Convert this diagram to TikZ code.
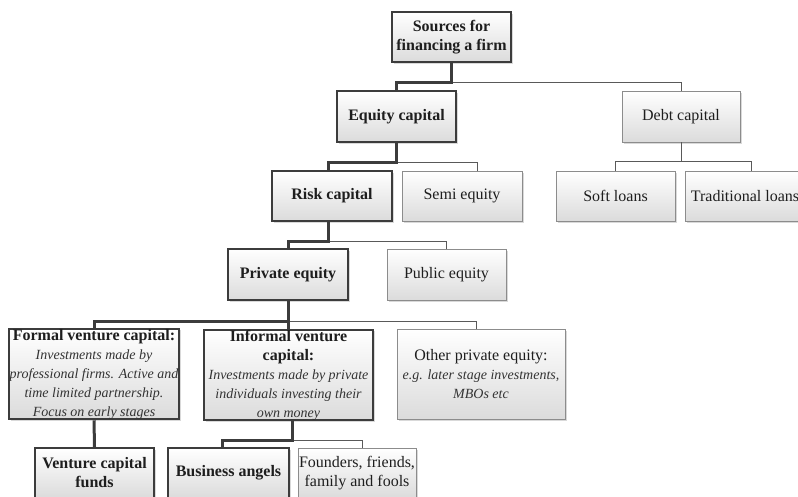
\documentclass[tikz,border=0pt]{standalone}
\usepackage{fontspec}
\setmainfont{Liberation Serif}
\usetikzlibrary{shadows}
\definecolor{darkedge}{HTML}{3C3C3C}
\definecolor{lightedge}{HTML}{8C8C8C}
\definecolor{boxtext}{HTML}{1E1E1E}
\newcommand{\descr}{\fontsize{14}{17}\selectfont\mdseries\itshape\color{black!80}}
\begin{document}
\begin{tikzpicture}[x=1pt,y=-1pt,
  box/.style={rectangle,inner sep=0pt,align=center,text=boxtext,
    top color=white,bottom color=black!14,
    drop shadow={shadow xshift=1.5pt,shadow yshift=-1.5pt,opacity=0.3},
    font=\fontsize{16}{19}\selectfont},
  mainbox/.style={box,draw=darkedge,line width=2.4pt,font=\fontsize{16}{19}\selectfont\bfseries},
  sidebox/.style={box,draw=lightedge,line width=0.9pt},
  thicklink/.style={draw=darkedge,line width=3pt},
  thinlink/.style={draw=black!65,line width=0.9pt}]
\useasboundingbox (0,0) rectangle (798,496);
\clip (0,0) rectangle (798,496);

\node[mainbox,minimum width=119,minimum height=50] (src) at (451.5,37) {Sources for\\financing a firm};
\node[mainbox,minimum width=119,minimum height=51] (eq) at (396.5,116.5) {Equity capital};
\node[sidebox,minimum width=118,minimum height=51] (debt) at (681,116.5) {Debt capital};
\node[mainbox,minimum width=120,minimum height=50] (risk) at (332,196) {Risk capital};
\node[sidebox,minimum width=120,minimum height=50] (semi) at (462,196) {Semi equity};
\node[sidebox,minimum width=119,minimum height=50] (soft) at (615.5,196) {Soft loans};
\node[sidebox,minimum width=120,minimum height=50] (trad) at (745,196) {Traditional loans};
\node[mainbox,minimum width=120,minimum height=51] (priv) at (288,274.5) {Private equity};
\node[sidebox,minimum width=119,minimum height=51] (pub) at (446.5,274.5) {Public equity};
\node[mainbox,minimum width=170,minimum height=90] (formal) at (94,374)
  {Formal venture capital:\\{\descr Investments made by}\\{\descr professional firms. Active and}\\{\descr time limited partnership.}\\{\descr Focus on early stages}};
\node[mainbox,minimum width=169,minimum height=90] (informal) at (288.5,375)
  {Informal venture\\capital:\\{\descr Investments made by private}\\{\descr individuals investing their}\\{\descr own money}};
\node[sidebox,minimum width=168,minimum height=90] (other) at (481,374)
  {Other private equity:\\{\descr e.g. later stage investments,}\\{\descr MBOs etc}};
\node[mainbox,minimum width=119,minimum height=50] (vcf) at (94.5,473) {Venture capital\\funds};
\node[mainbox,minimum width=121,minimum height=50] (angels) at (228.5,473) {Business angels};
\node[sidebox,minimum width=118,minimum height=50] (fff) at (357,473) {Founders, friends,\\family and fools};

% thin branches
\draw[thinlink] (src.south) ++(0,19) -| (debt.north);
\draw[thinlink] (eq.south) ++(0,19) -| ([xshift=15pt]semi.north);
\draw[thinlink] (debt.south) -- ++(0,19) -| (soft.north);
\draw[thinlink] (debt.south) ++(0,19) -| ([xshift=6pt]trad.north);
\draw[thinlink] (risk.south) ++(-4,19) -| (pub.north);
\draw[thinlink] (priv.south) ++(0,20) -| ([xshift=-5pt]other.north);
\draw[thinlink] ([xshift=3.5pt]informal.south) ++(0,19) -| ([xshift=5pt]fff.north);

% thick branches
\draw[thicklink] (src.south) -- ++(0,19) -| (eq.north);
\draw[thicklink] (eq.south) -- ++(0,19) -| ([xshift=-4pt]risk.north);
\draw[thicklink] ([xshift=-4pt]risk.south) -- ++(0,19) -| (priv.north);
\draw[thicklink] (priv.south) -- ++(0,20) -| (formal.north);
\draw[thicklink] (priv.south) -- (priv.south |- informal.north);
\draw[thicklink] (formal.south) -- (vcf.north);
\draw[thicklink] ([xshift=3.5pt]informal.south) -- ++(0,19) -| ([xshift=-6pt]angels.north);
\end{tikzpicture}
\end{document}
